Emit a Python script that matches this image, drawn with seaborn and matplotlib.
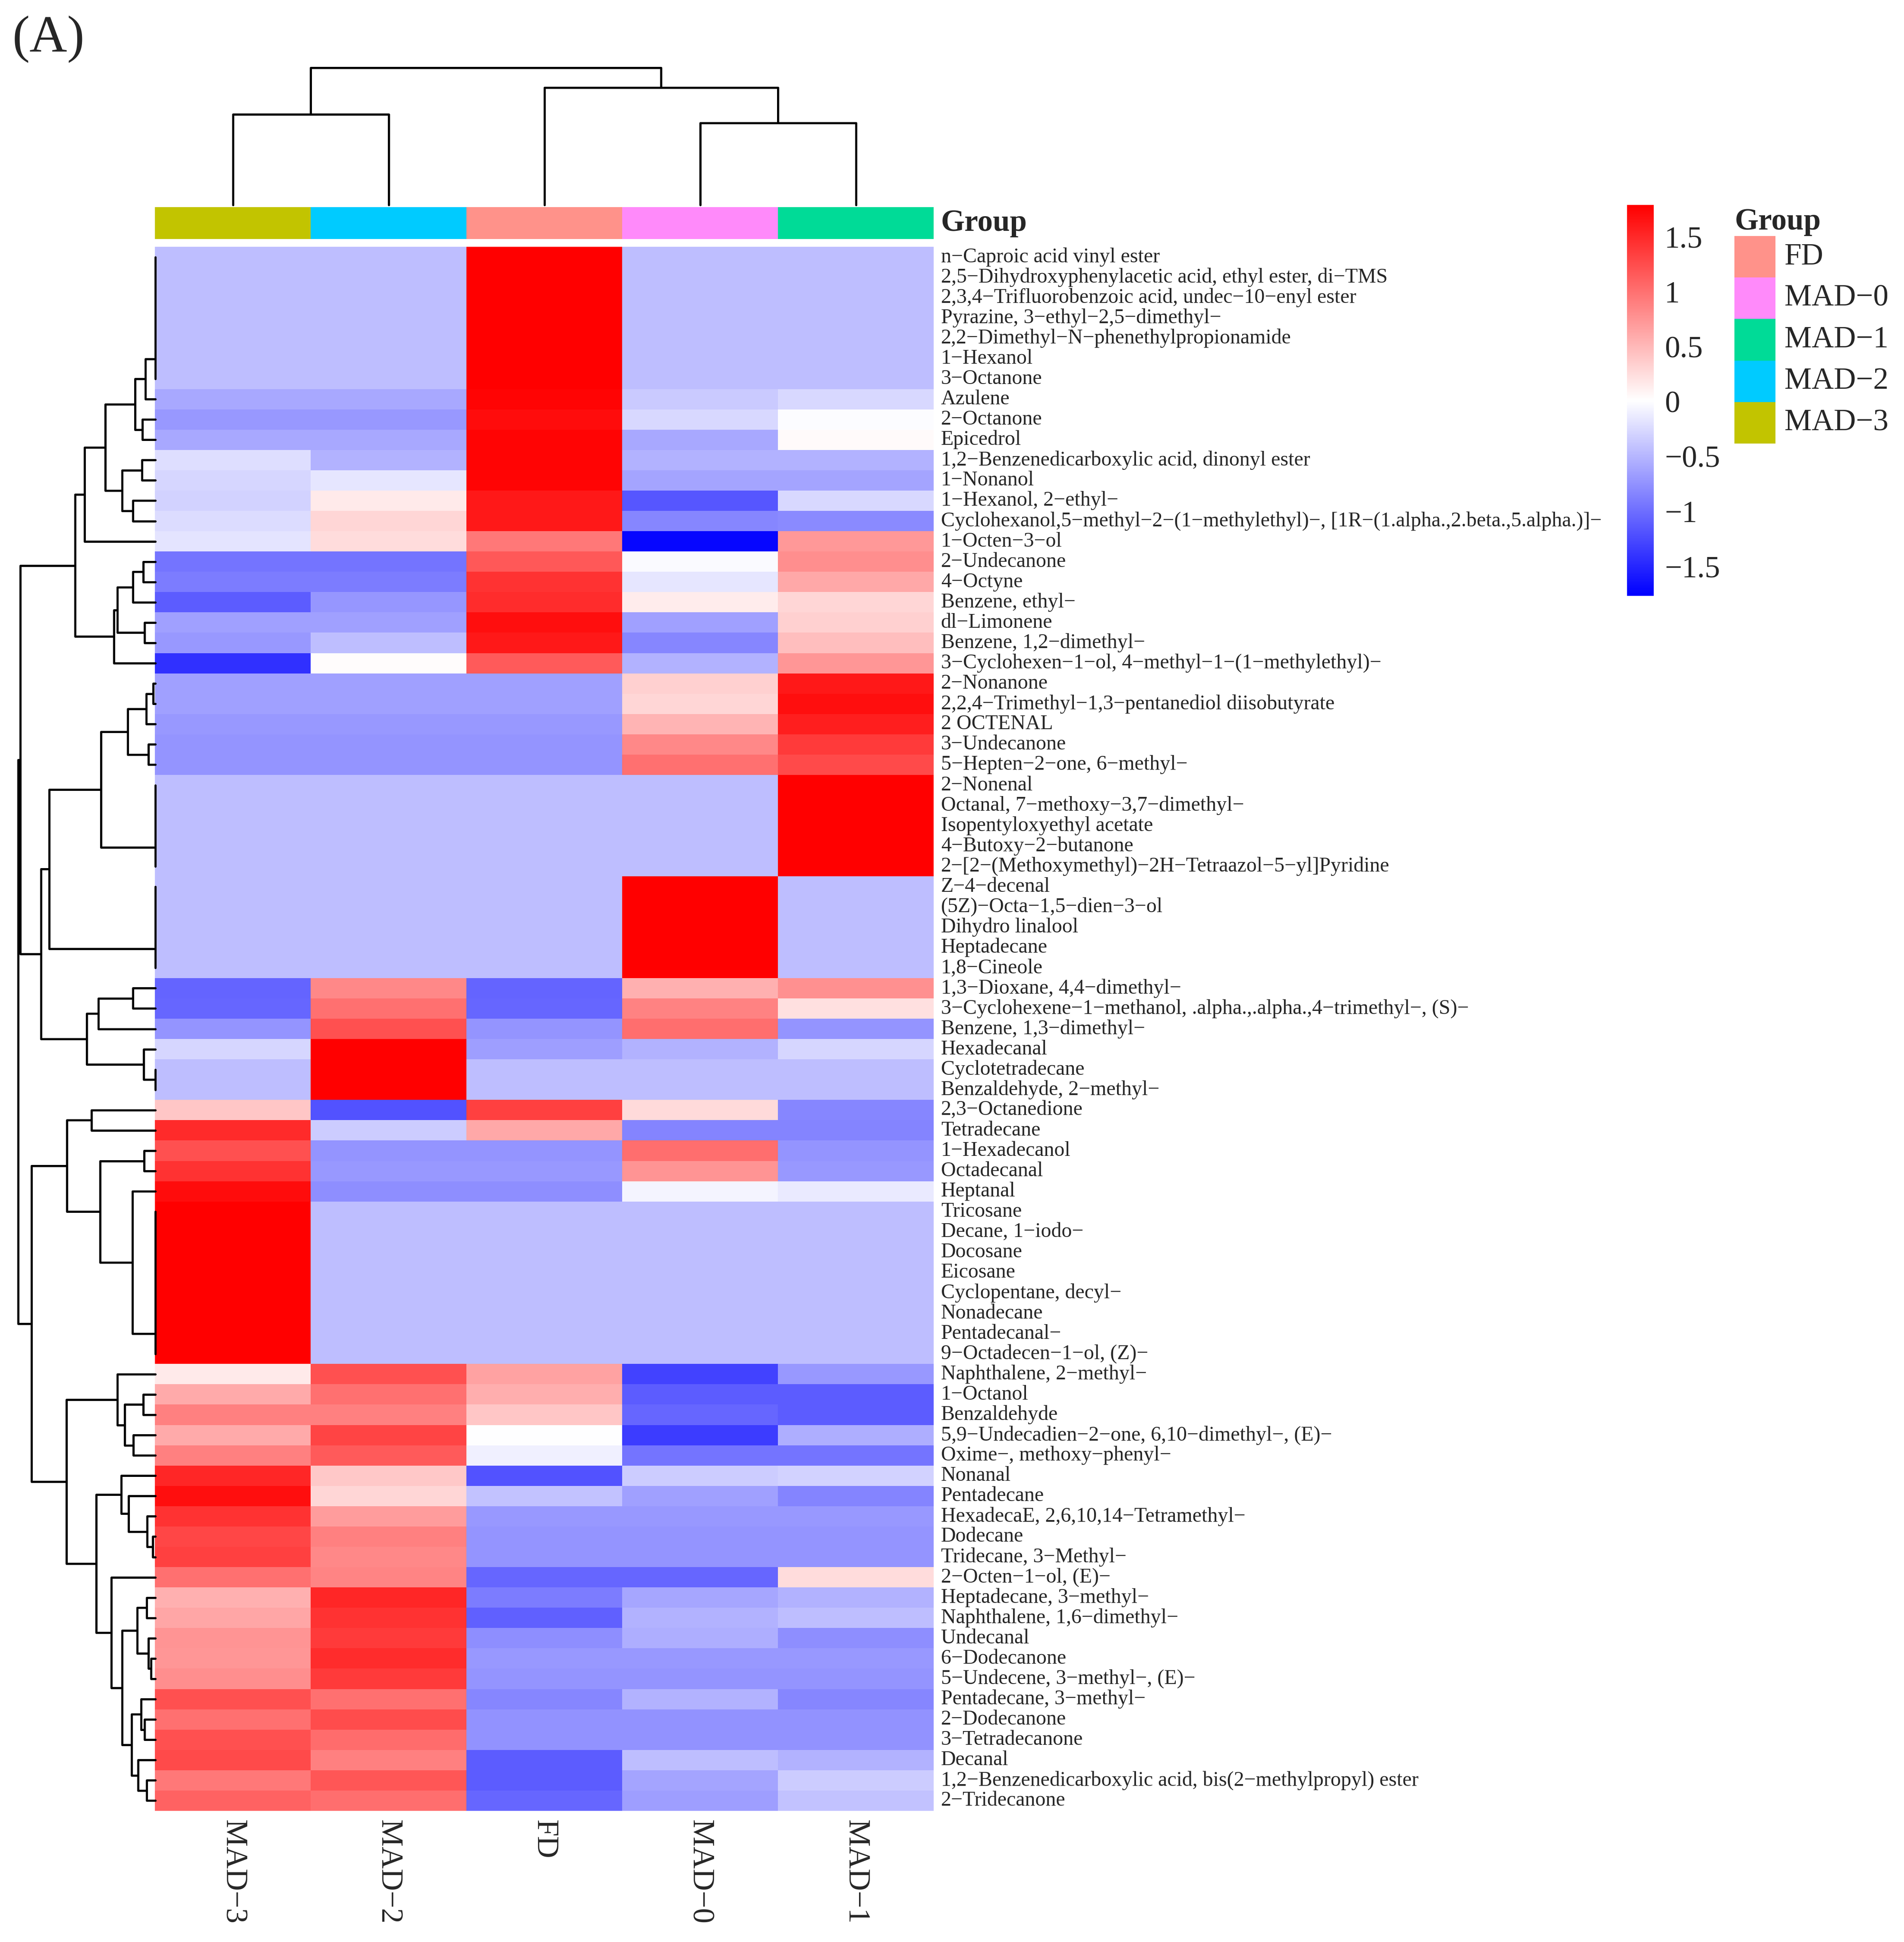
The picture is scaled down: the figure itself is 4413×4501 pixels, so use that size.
import numpy as np
import pandas as pd
import seaborn as sns
import matplotlib.pyplot as plt
from matplotlib.colors import LinearSegmentedColormap, ListedColormap

# column order as shown (after clustering)
samples = ["MAD-3", "MAD-2", "FD", "MAD-0", "MAD-1"]

compounds = [
    "n-Caproic acid vinyl ester",
    "2,5-Dihydroxyphenylacetic acid, ethyl ester, di-TMS",
    "2,3,4-Trifluorobenzoic acid, undec-10-enyl ester",
    "Pyrazine, 3-ethyl-2,5-dimethyl-",
    "2,2-Dimethyl-N-phenethylpropionamide",
    "1-Hexanol",
    "3-Octanone",
    "Azulene",
    "2-Octanone",
    "Epicedrol",
    "1,2-Benzenedicarboxylic acid, dinonyl ester",
    "1-Nonanol",
    "1-Hexanol, 2-ethyl-",
    "Cyclohexanol,5-methyl-2-(1-methylethyl)-, [1R-(1.alpha.,2.beta.,5.alpha.)]-",
    "1-Octen-3-ol",
    "2-Undecanone",
    "4-Octyne",
    "Benzene, ethyl-",
    "dl-Limonene",
    "Benzene, 1,2-dimethyl-",
    "3-Cyclohexen-1-ol, 4-methyl-1-(1-methylethyl)-",
    "2-Nonanone",
    "2,2,4-Trimethyl-1,3-pentanediol diisobutyrate",
    "2 OCTENAL",
    "3-Undecanone",
    "5-Hepten-2-one, 6-methyl-",
    "2-Nonenal",
    "Octanal, 7-methoxy-3,7-dimethyl-",
    "Isopentyloxyethyl acetate",
    "4-Butoxy-2-butanone",
    "2-[2-(Methoxymethyl)-2H-Tetraazol-5-yl]Pyridine",
    "Z-4-decenal",
    "(5Z)-Octa-1,5-dien-3-ol",
    "Dihydro linalool",
    "Heptadecane",
    "1,8-Cineole",
    "1,3-Dioxane, 4,4-dimethyl-",
    "3-Cyclohexene-1-methanol, .alpha.,.alpha.,4-trimethyl-, (S)-",
    "Benzene, 1,3-dimethyl-",
    "Hexadecanal",
    "Cyclotetradecane",
    "Benzaldehyde, 2-methyl-",
    "2,3-Octanedione",
    "Tetradecane",
    "1-Hexadecanol",
    "Octadecanal",
    "Heptanal",
    "Tricosane",
    "Decane, 1-iodo-",
    "Docosane",
    "Eicosane",
    "Cyclopentane, decyl-",
    "Nonadecane",
    "Pentadecanal-",
    "9-Octadecen-1-ol, (Z)-",
    "Naphthalene, 2-methyl-",
    "1-Octanol",
    "Benzaldehyde",
    "5,9-Undecadien-2-one, 6,10-dimethyl-, (E)-",
    "Oxime-, methoxy-phenyl-",
    "Nonanal",
    "Pentadecane",
    "HexadecaE, 2,6,10,14-Tetramethyl-",
    "Dodecane",
    "Tridecane, 3-Methyl-",
    "2-Octen-1-ol, (E)-",
    "Heptadecane, 3-methyl-",
    "Naphthalene, 1,6-dimethyl-",
    "Undecanal",
    "6-Dodecanone",
    "5-Undecene, 3-methyl-, (E)-",
    "Pentadecane, 3-methyl-",
    "2-Dodecanone",
    "3-Tetradecanone",
    "Decanal",
    "1,2-Benzenedicarboxylic acid, bis(2-methylpropyl) ester",
    "2-Tridecanone",
]

# row z-scores (one list per sample)
mad3 = [-0.447, -0.447, -0.447, -0.447, -0.447, -0.447, -0.447, -0.60, -0.71, -0.60,
        -0.22, -0.27, -0.30, -0.23, -0.18, -0.95, -0.90, -1.12, -0.65, -0.70,
        -1.43, -0.65, -0.65, -0.70, -0.74, -0.74, -0.447, -0.447, -0.447, -0.447,
        -0.447, -0.447, -0.447, -0.447, -0.447, -0.447, -1.07, -1.05, -0.74, -0.27,
        -0.447, -0.447, 0.41, 1.49, 1.23, 1.43, 1.70, 1.789, 1.789, 1.789,
        1.789, 1.789, 1.789, 1.789, 1.789, 0.16, 0.60, 0.89, 0.60, 0.89,
        1.52, 1.69, 1.43, 1.29, 1.34, 1.00, 0.56, 0.63, 0.75, 0.74,
        0.80, 1.23, 1.00, 1.23, 1.27, 0.95, 1.10]
mad2 = [-0.447, -0.447, -0.447, -0.447, -0.447, -0.447, -0.447, -0.60, -0.71, -0.60,
        -0.53, -0.16, 0.16, 0.30, 0.25, -0.95, -0.90, -0.72, -0.65, -0.44,
        0.03, -0.65, -0.65, -0.70, -0.74, -0.74, -0.447, -0.447, -0.447, -0.447,
        -0.447, -0.447, -0.447, -0.447, -0.447, -0.447, 0.84, 1.00, 1.23, 1.78,
        1.789, 1.789, -1.19, -0.35, -0.74, -0.71, -0.78, -0.447, -0.447, -0.447,
        -0.447, -0.447, -0.447, -0.447, -0.447, 1.23, 1.00, 0.89, 1.31, 1.15,
        0.39, 0.30, 0.70, 0.89, 0.83, 0.86, 1.52, 1.43, 1.38, 1.47,
        1.38, 1.00, 1.26, 1.03, 0.89, 1.19, 1.02]
fd = [1.789, 1.789, 1.789, 1.789, 1.789, 1.789, 1.789, 1.75, 1.70, 1.75,
      1.75, 1.75, 1.61, 1.61, 0.95, 1.17, 1.43, 1.47, 1.69, 1.61,
      1.16, -0.65, -0.65, -0.70, -0.74, -0.74, -0.447, -0.447, -0.447, -0.447,
      -0.447, -0.447, -0.447, -0.447, -0.447, -0.447, -1.07, -1.05, -0.74, -0.67,
      -0.447, -0.447, 1.34, 0.61, -0.74, -0.71, -0.78, -0.447, -0.447, -0.447,
      -0.447, -0.447, -0.447, -0.447, -0.447, 0.65, 0.57, 0.41, 0.00, -0.10,
      -1.19, -0.41, -0.70, -0.74, -0.74, -1.05, -0.90, -1.09, -0.78, -0.70,
      -0.74, -0.83, -0.75, -0.75, -1.13, -1.13, -1.05]
mad0 = [-0.447, -0.447, -0.447, -0.447, -0.447, -0.447, -0.447, -0.36, -0.26, -0.60,
        -0.53, -0.63, -1.17, -0.83, -1.72, -0.02, -0.16, 0.14, -0.65, -0.83,
        -0.53, 0.33, 0.30, 0.53, 0.83, 1.00, -0.447, -0.447, -0.447, -0.447,
        -0.447, 1.789, 1.789, 1.789, 1.789, 1.789, 0.56, 0.88, 1.02, -0.53,
        -0.447, -0.447, 0.26, -0.85, 1.02, 0.76, -0.07, -0.447, -0.447, -0.447,
        -0.447, -0.447, -0.447, -0.447, -0.447, -1.31, -1.12, -1.05, -1.34, -0.96,
        -0.35, -0.65, -0.70, -0.74, -0.74, -1.05, -0.61, -0.53, -0.55, -0.70,
        -0.74, -0.53, -0.75, -0.75, -0.44, -0.63, -0.67]
mad1 = [-0.447, -0.447, -0.447, -0.447, -0.447, -0.447, -0.447, -0.26, -0.01, 0.04,
        -0.53, -0.63, -0.26, -0.81, 0.72, 0.80, 0.61, 0.30, 0.33, 0.46,
        0.74, 1.62, 1.68, 1.58, 1.38, 1.27, 1.789, 1.789, 1.789, 1.789,
        1.789, -0.447, -0.447, -0.447, -0.447, -0.447, 0.78, 0.22, -0.74, -0.27,
        -0.447, -0.447, -0.83, -0.85, -0.74, -0.71, -0.13, -0.447, -0.447, -0.447,
        -0.447, -0.447, -0.447, -0.447, -0.447, -0.70, -1.12, -1.13, -0.56, -0.96,
        -0.30, -0.85, -0.70, -0.74, -0.74, 0.25, -0.53, -0.44, -0.78, -0.70,
        -0.74, -0.83, -0.75, -0.75, -0.53, -0.35, -0.41]

group_levels = ["FD", "MAD-0", "MAD-1", "MAD-2", "MAD-3"]
group_colors = ["#FF928A", "#FF8AFA", "#00DB97", "#00CBFF", "#C2C400"]

sns.set_style("white")
plt.rcParams["font.family"] = ["Liberation Serif", "DejaVu Serif"]

mm = lambda s: s.replace("-", "\u2212")

df = pd.DataFrame({"MAD-3": mad3, "MAD-2": mad2, "FD": fd, "MAD-0": mad0, "MAD-1": mad1},
                  index=compounds)[samples]


def ordered_tree(X):
    """complete-linkage merges, restricted to neighbours so the drawn order is kept"""
    D = np.sqrt(((X[:, None, :] - X[None, :, :]) ** 2).sum(-1))
    nodes = [([i], i + 0.5, 0.0) for i in range(len(X))]
    segs = []
    while len(nodes) > 1:
        best, k = None, 0
        for j in range(len(nodes) - 1):
            d = D[np.ix_(nodes[j][0], nodes[j + 1][0])].max()
            if best is None or d < best:
                best, k = d, j
        a, b = nodes[k], nodes[k + 1]
        h = max(best, a[2], b[2])
        segs.append((a[1], a[2], b[1], b[2], h))
        nodes[k:k + 2] = [(a[0] + b[0], (a[1] + b[1]) / 2, h)]
    return segs, nodes[0][2]


W, H = 4413, 4501
fig = plt.figure(figsize=(W / 300, H / 300), dpi=300)


def px(x0, y0, x1, y1):
    return [x0 / W, 1 - y1 / H, (x1 - x0) / W, (y1 - y0) / H]


ax = fig.add_axes(px(359, 572, 2164, 4197))
cax = fig.add_axes(px(3771, 475, 3833, 1381))
gax = fig.add_axes(px(359, 480, 2164, 554))
cdax = fig.add_axes(px(359, 157, 2164, 475))
rdax = fig.add_axes(px(42, 572, 360, 4197))
lax = fig.add_axes(px(4020, 547, 4115, 1028))

# main heatmap
cmap = LinearSegmentedColormap.from_list("bwr_ph", ["#0000FF", "#FFFFFF", "#FF0000"], N=256)
sns.heatmap(df, ax=ax, cmap=cmap, vmin=-1.77, vmax=1.789, cbar_ax=cax,
            xticklabels=[mm(s) for s in samples], yticklabels=[mm(s) for s in compounds])
ax.yaxis.tick_right()
ax.set_yticklabels([mm(s) for s in compounds], rotation=0, fontsize=11.5, va="center")
ax.set_xticklabels([mm(s) for s in samples], rotation=270, fontsize=17, va="top")
ax.tick_params(length=0, pad=4)
ax.tick_params(axis="x", pad=5)

cbar = ax.collections[0].colorbar
cbar.outline.set_visible(False)
cbar.set_ticks([-1.5, -1, -0.5, 0, 0.5, 1, 1.5])
cbar.set_ticklabels([mm(t) for t in ["-1.5", "-1", "-0.5", "0", "0.5", "1", "1.5"]])
cax.tick_params(length=0, labelsize=17, pad=6)

# group annotation bar
codes = np.array([[group_levels.index(s) for s in samples]])
gcmap = ListedColormap(group_colors)
sns.heatmap(codes, ax=gax, cmap=gcmap, vmin=-0.5, vmax=4.5, cbar=False,
            xticklabels=False, yticklabels=["Group"])
gax.yaxis.tick_right()
gax.set_yticklabels(["Group"], rotation=0, fontsize=17, fontweight="bold", va="center")
gax.tick_params(length=0, pad=4)

# group legend
sns.heatmap(np.arange(5).reshape(-1, 1), ax=lax, cmap=gcmap, vmin=-0.5, vmax=4.5, cbar=False,
            xticklabels=False, yticklabels=[mm(g) for g in group_levels])
lax.yaxis.tick_right()
lax.set_yticklabels([mm(g) for g in group_levels], rotation=0, fontsize=17, va="center")
lax.tick_params(length=0, pad=5)
lax.set_title("Group", loc="left", fontsize=17, fontweight="bold", pad=3)

# column dendrogram
csegs, chmax = ordered_tree(df.values.T)
for x1, h1, x2, h2, h in csegs:
    cdax.plot([x1, x1, x2, x2], [h1, h, h, h2], color="black", lw=1.2, clip_on=False)
cdax.set_xlim(0, len(samples))
cdax.set_ylim(0, chmax)
cdax.axis("off")

# row dendrogram
rsegs, rhmax = ordered_tree(df.values)
for y1, h1, y2, h2, h in rsegs:
    rdax.plot([h1, h, h, h2], [y1, y1, y2, y2], color="black", lw=1.2, clip_on=False)
rdax.set_ylim(len(compounds), 0)
rdax.set_xlim(rhmax, 0)
rdax.axis("off")

fig.text(29 / W, 1 - 36 / H, "(A)", fontsize=29, va="top", ha="left")

fig.savefig("out.png", dpi=300)
